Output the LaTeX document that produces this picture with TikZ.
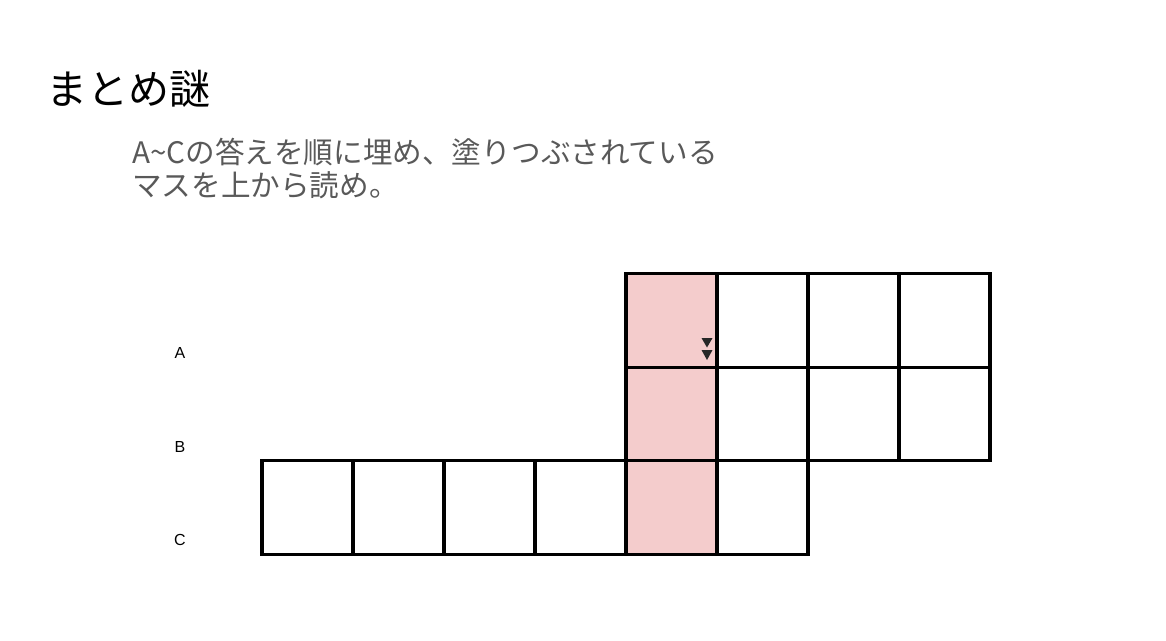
\documentclass[tikz,border=0pt]{standalone}
\usepackage{fontspec}
\setmainfont{Liberation Sans}
\newfontfamily\jpfont{Noto Sans CJK JP}
\usepackage{tikz}
\definecolor{nazopink}{HTML}{F4CCCC}
\definecolor{nazogray}{HTML}{595959}
\tikzset{
  cell/.style={draw,line width=3.2pt,rectangle,inner sep=0pt,
    minimum width=91pt,minimum height=93.3pt,fill=white},
  shaded/.style={cell,fill=nazopink},
  rowlabel/.style={inner sep=0pt,font=\fontsize{16pt}{18pt}\selectfont}
}

\begin{document}
\begin{tikzpicture}[x=1pt,y=-1pt]
  \useasboundingbox (0,0) rectangle (1166,640);
  % title and instructions
  \node[anchor=west,inner sep=0pt] (title) at (46,89)
    {\jpfont\fontsize{41pt}{44pt}\selectfont まとめ謎};
  \node[anchor=west,inner sep=0pt,align=left,text=nazogray,
    font=\jpfont\fontsize{29.6pt}{33pt}\selectfont] (rule) at (132,168.5)
    {A\char"7E Cの答えを順に埋め、塗りつぶされている\\
     マスを上から読め。};
  % row labels
  \node[rowlabel] (LA) at (180,353) {A};
  \node[rowlabel] (LB) at (180,447) {B};
  \node[rowlabel] (LC) at (180,540) {C};
  % row C
  \node[cell] (C1) at (307.5,507.5) {};
  \node[cell] (C2) at (398.5,507.5) {};
  \node[cell] (C3) at (489.5,507.5) {};
  \node[cell] (C4) at (580.5,507.5) {};
  \node[shaded] (C5) at (671.5,507.5) {};
  \node[cell] (C6) at (762.5,507.5) {};
  % row B
  \node[shaded] (B1) at (671.5,414) {};
  \node[cell] (B2) at (762.5,414) {};
  \node[cell] (B3) at (853.5,414) {};
  \node[cell] (B4) at (944.5,414) {};
  % row A
  \node[shaded] (A1) at (671.5,320.5) {};
  \node[cell] (A2) at (762.5,320.5) {};
  \node[cell] (A3) at (853.5,320.5) {};
  \node[cell] (A4) at (944.5,320.5) {};
  % two little markers in the corner of A1
  \fill[black!85] (701.5,338) -- (712.5,338) -- (707,347.5) -- cycle;
  \fill[black!85] (701.5,350) -- (712.5,350) -- (707,360) -- cycle;
\end{tikzpicture}
\end{document}
